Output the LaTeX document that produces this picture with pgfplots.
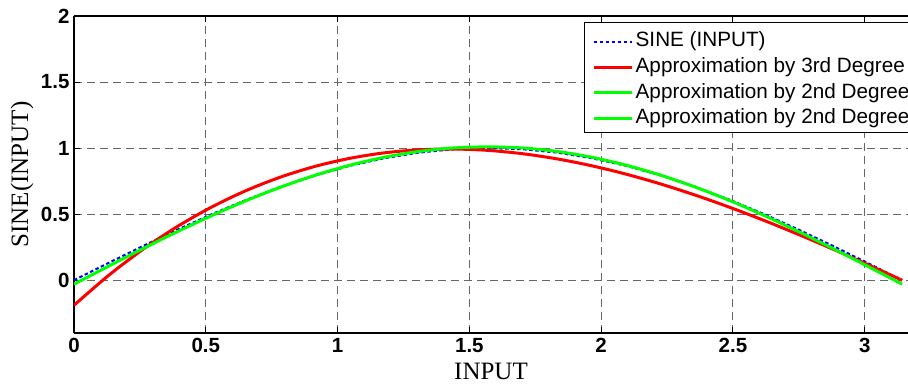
\documentclass[border=0pt]{standalone}
\usepackage{pgfplots}
\pgfplotsset{compat=1.18}
\usepackage{fontspec}
\setmainfont{Liberation Serif}
\newfontfamily\arial{Liberation Sans}
\definecolor{gridgray}{gray}{0.4}
\begin{document}
\begin{tikzpicture}
\useasboundingbox (-74bp,-52bp) rectangle (834bp,333bp);
\begin{axis}[
  scale only axis,
  width=834bp, height=317bp,
  xmin=0, xmax=3.164, ymin=-0.4, ymax=2,
  axis x line*=box, axis y line*=left,
  axis line style={black, line width=1.1bp},
  xtick={0,0.5,1,1.5,2,2.5,3},
  ytick={0,0.5,1,1.5,2},
  tick align=inside,
  major tick length=6bp,
  tick style={black, line width=1bp},
  grid=major,
  major grid style={gridgray, line width=1bp, dash pattern=on 8bp off 5bp},
  /pgf/number format/assume math mode=true,
  ticklabel style={font=\arial\bfseries\fontsize{20.5bp}{23bp}\selectfont},
  xticklabel style={yshift=-2bp},
  yticklabel style={xshift=-1bp},
  xlabel={INPUT},
  ylabel={SINE(INPUT)},
  label style={font=\fontsize{25bp}{28bp}\selectfont},
  xlabel style={at={([yshift=-38bp]axis description cs:0.5,0)}, anchor=center},
  ylabel style={at={([xshift=-52bp]axis description cs:0,0.5)}, anchor=center, rotate=0},
  legend cell align=left,
  legend style={at={(0.6175,0.967)}, anchor=north west,
    draw=none, fill=none,
    font=\arial\fontsize{20.7bp}{24bp}\selectfont,
    inner xsep=3bp, inner ysep=2bp, row sep=0bp,
    nodes={text height=15.7bp, text depth=5bp, inner sep=2.5bp}},
  legend image code/.code={\draw[#1] (0bp,0bp) -- (38bp,0bp);},
]
\addplot[blue, line width=2bp, dash pattern=on 3.5bp off 2.5bp] coordinates {
(0,0) (0.1309,0.1305) (0.2618,0.2588) (0.3927,0.3827) (0.5236,0.5) (0.6545,0.6088)
(0.7854,0.7071) (0.9163,0.7934) (1.0472,0.8660) (1.1781,0.9239) (1.3090,0.9659)
(1.4399,0.9914) (1.5708,1) (1.7017,0.9914) (1.8326,0.9659) (1.9635,0.9239)
(2.0944,0.8660) (2.2253,0.7934) (2.3562,0.7071) (2.4871,0.6088) (2.6180,0.5)
(2.7489,0.3827) (2.8798,0.2588) (3.0107,0.1305) (3.1416,0)};
\addlegendentry{SINE (INPUT)}
\addplot[red, line width=3bp, smooth] coordinates {
(0,-0.19) (0.1309,0.0354) (0.2618,0.2339) (0.3927,0.4067) (0.5236,0.5550) (0.6545,0.6796)
(0.7854,0.7817) (0.9163,0.8625) (1.0472,0.9229) (1.1781,0.9641) (1.3090,0.9870)
(1.4399,0.9928) (1.5708,0.9826) (1.7017,0.9574) (1.8326,0.9183) (1.9635,0.8664)
(2.0944,0.8027) (2.2253,0.7284) (2.3562,0.6445) (2.4871,0.5520) (2.6180,0.4521)
(2.7489,0.3458) (2.8798,0.2343) (3.0107,0.1183) (3.1416,-0.0006)};
\addlegendentry{Approximation by 3rd Degree}
\addplot[green, line width=3bp, smooth] coordinates {
(0,-0.03) (0.1309,0.1057) (0.2618,0.2392) (0.3927,0.3680) (0.5236,0.4900) (0.6545,0.6032)
(0.7854,0.7054) (0.9163,0.7951) (1.0472,0.8706) (1.1781,0.9309) (1.3090,0.9745)
(1.4399,1.0011) (1.5708,1.0100)};
\addlegendentry{Approximation by 2nd Degree}
\addplot[green, line width=3bp, smooth] coordinates {
(1.5708,1.0100) (1.7017,1.0011) (1.8326,0.9745) (1.9635,0.9309) (2.0944,0.8706)
(2.2253,0.7951) (2.3562,0.7054) (2.4871,0.6032) (2.6180,0.4900) (2.7489,0.3680)
(2.8798,0.2392) (3.0107,0.1057) (3.1416,-0.03)};
\addlegendentry{Approximation by 2nd Degree}
\draw[black, line width=1bp, fill=white] (axis description cs:0.6127,0.978) rectangle (axis description cs:1.05,0.631);
\end{axis}
\end{tikzpicture}
\end{document}
